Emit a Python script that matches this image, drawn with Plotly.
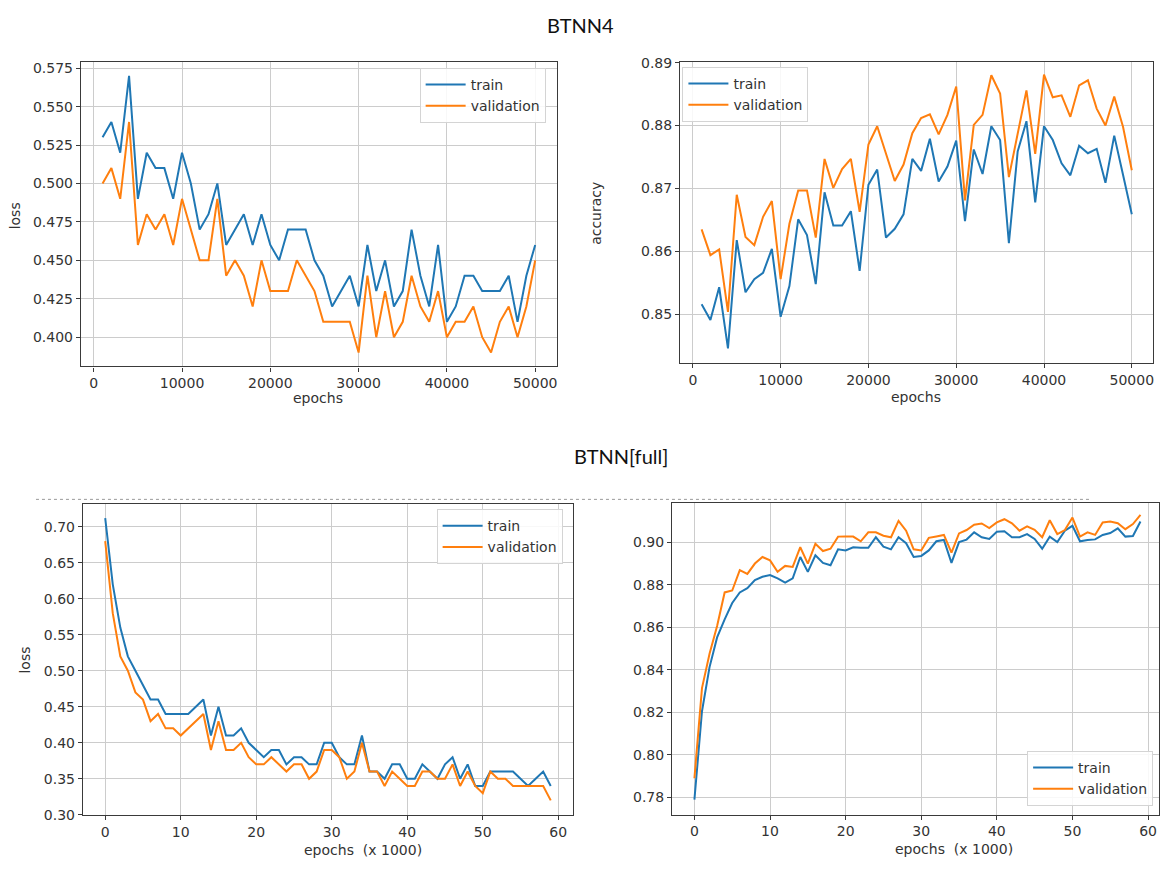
import plotly.graph_objects as go

W, H = 1160, 871

# ---------------- data ----------------
epochs_a = list(range(1000, 50001, 1000))
loss4_train = [0.530, 0.540, 0.520, 0.570, 0.490, 0.520, 0.510, 0.510, 0.490, 0.520,
               0.500, 0.470, 0.480, 0.500, 0.460, 0.470, 0.480, 0.460, 0.480, 0.460,
               0.450, 0.470, 0.470, 0.470, 0.450, 0.440, 0.420, 0.430, 0.440, 0.420,
               0.460, 0.430, 0.450, 0.420, 0.430, 0.470, 0.440, 0.420, 0.460, 0.410,
               0.420, 0.440, 0.440, 0.430, 0.430, 0.430, 0.440, 0.410, 0.440, 0.460]
loss4_val = [0.500, 0.510, 0.490, 0.540, 0.460, 0.480, 0.470, 0.480, 0.460, 0.490,
             0.470, 0.450, 0.450, 0.490, 0.440, 0.450, 0.440, 0.420, 0.450, 0.430,
             0.430, 0.430, 0.450, 0.440, 0.430, 0.410, 0.410, 0.410, 0.410, 0.390,
             0.440, 0.400, 0.430, 0.400, 0.410, 0.440, 0.420, 0.410, 0.430, 0.400,
             0.410, 0.410, 0.420, 0.400, 0.390, 0.410, 0.420, 0.400, 0.420, 0.450]
acc4_train = [0.8516, 0.8491, 0.8543, 0.8446, 0.8618, 0.8535, 0.8556, 0.8566, 0.8604, 0.8496,
              0.8545, 0.8651, 0.8626, 0.8548, 0.8694, 0.8641, 0.8641, 0.8664, 0.8569, 0.8706,
              0.8730, 0.8622, 0.8636, 0.8659, 0.8747, 0.8728, 0.8779, 0.8711, 0.8735, 0.8776,
              0.8648, 0.8762, 0.8723, 0.8799, 0.8777, 0.8613, 0.8759, 0.8807, 0.8678, 0.8799,
              0.8777, 0.8740, 0.8721, 0.8768, 0.8756, 0.8763, 0.8709, 0.8784, 0.8722, 0.8659]
acc4_val = [0.8635, 0.8594, 0.8603, 0.8504, 0.8690, 0.8623, 0.8610, 0.8655, 0.8680, 0.8556,
            0.8644, 0.8697, 0.8697, 0.8622, 0.8747, 0.8701, 0.8731, 0.8747, 0.8663, 0.8770,
            0.8799, 0.8756, 0.8712, 0.8738, 0.8788, 0.8812, 0.8818, 0.8786, 0.8817, 0.8862,
            0.8681, 0.8801, 0.8817, 0.8880, 0.8851, 0.8718, 0.8790, 0.8856, 0.8755, 0.8881,
            0.8845, 0.8848, 0.8814, 0.8864, 0.8872, 0.8827, 0.8800, 0.8846, 0.8798, 0.8729]

epochs_b = list(range(0, 60))
lossf_train = [0.712, 0.620, 0.560, 0.520, 0.500, 0.480, 0.460, 0.460, 0.440, 0.440,
               0.440, 0.440, 0.450, 0.460, 0.410, 0.450, 0.410, 0.410, 0.420, 0.400,
               0.390, 0.380, 0.390, 0.390, 0.370, 0.380, 0.380, 0.370, 0.370, 0.400,
               0.400, 0.380, 0.370, 0.370, 0.410, 0.360, 0.360, 0.350, 0.370, 0.370,
               0.350, 0.350, 0.370, 0.360, 0.350, 0.370, 0.380, 0.350, 0.370, 0.340,
               0.340, 0.360, 0.360, 0.360, 0.360, 0.350, 0.340, 0.350, 0.360, 0.340]
lossf_val = [0.680, 0.580, 0.520, 0.500, 0.470, 0.460, 0.430, 0.440, 0.420, 0.420,
             0.410, 0.420, 0.430, 0.440, 0.390, 0.430, 0.390, 0.390, 0.400, 0.380,
             0.370, 0.370, 0.380, 0.370, 0.360, 0.370, 0.370, 0.350, 0.360, 0.390,
             0.390, 0.380, 0.350, 0.360, 0.400, 0.360, 0.360, 0.340, 0.360, 0.350,
             0.340, 0.340, 0.360, 0.360, 0.350, 0.350, 0.370, 0.340, 0.360, 0.340,
             0.330, 0.360, 0.350, 0.350, 0.340, 0.340, 0.340, 0.340, 0.340, 0.320]
accf_train = [0.7788, 0.8205, 0.8413, 0.8553, 0.8638, 0.8715, 0.8765, 0.8785, 0.8823, 0.8839,
              0.8847, 0.8831, 0.8811, 0.8831, 0.8932, 0.8862, 0.8940, 0.8904, 0.8893, 0.8968,
              0.8963, 0.8978, 0.8975, 0.8975, 0.9025, 0.8981, 0.8968, 0.9025, 0.8997, 0.8932,
              0.8937, 0.8963, 0.9006, 0.9012, 0.8904, 0.9002, 0.9014, 0.9048, 0.9025, 0.9017,
              0.9051, 0.9053, 0.9025, 0.9025, 0.9040, 0.9017, 0.8971, 0.9028, 0.9002, 0.9056,
              0.9079, 0.9006, 0.9012, 0.9015, 0.9036, 0.9045, 0.9067, 0.9028, 0.9031, 0.9099]
accf_val = [0.7889, 0.8314, 0.8476, 0.8607, 0.8765, 0.8774, 0.8870, 0.8852, 0.8901, 0.8932,
            0.8916, 0.8862, 0.8890, 0.8885, 0.8978, 0.8901, 0.8994, 0.8960, 0.8971, 0.9028,
            0.9029, 0.9028, 0.9006, 0.9048, 0.9048, 0.9032, 0.9025, 0.9102, 0.9056, 0.8968,
            0.8963, 0.9022, 0.9029, 0.9036, 0.8952, 0.9043, 0.9059, 0.9084, 0.9090, 0.9068,
            0.9095, 0.9110, 0.9091, 0.9056, 0.9076, 0.9060, 0.9025, 0.9105, 0.9040, 0.9059,
            0.9118, 0.9028, 0.9048, 0.9036, 0.9095, 0.9099, 0.9091, 0.9063, 0.9087, 0.9130]

series_names = ["train", "validation"]
x_ticks_a = [0, 10000, 20000, 30000, 40000, 50000]
x_ticks_b = [0, 10, 20, 30, 40, 50, 60]
y_ticks_1 = [0.400, 0.425, 0.450, 0.475, 0.500, 0.525, 0.550, 0.575]
y_ticks_2 = [0.85, 0.86, 0.87, 0.88, 0.89]
y_ticks_3 = [0.30, 0.35, 0.40, 0.45, 0.50, 0.55, 0.60, 0.65, 0.70]
y_ticks_4 = [0.78, 0.80, 0.82, 0.84, 0.86, 0.88, 0.90]

BLUE = "#1f77b4"
ORANGE = "#ff7f0e"
FONT = "DejaVu Sans"
TXT = "#333333"


def px_x(p):
    return p / W


def px_y(p):
    return (H - p) / H


fig = go.Figure()

panels = [
    (epochs_a, loss4_train, loss4_val, "x", "y", "legend"),
    (epochs_a, acc4_train, acc4_val, "x2", "y2", "legend2"),
    (epochs_b, lossf_train, lossf_val, "x3", "y3", "legend3"),
    (epochs_b, accf_train, accf_val, "x4", "y4", "legend4"),
]
for xs, tr, va, xa, ya, lg in panels:
    for name, ys, col in ((series_names[0], tr, BLUE), (series_names[1], va, ORANGE)):
        fig.add_trace(go.Scatter(x=xs, y=ys, mode="lines", name=name,
                                 line=dict(color=col, width=2),
                                 xaxis=xa, yaxis=ya, legend=lg))

axis_common = dict(showline=True, mirror=True, linecolor="#3a3a3a", linewidth=1.3,
                   showgrid=True, gridcolor="#cccccc", gridwidth=1,
                   zeroline=False, ticks="outside", ticklen=4, tickwidth=1,
                   tickcolor="#3a3a3a",
                   tickfont=dict(family=FONT, size=14, color=TXT))

fig.update_layout(
    width=W, height=H, margin=dict(l=0, r=0, t=0, b=0),
    paper_bgcolor="white", plot_bgcolor="white",
    showlegend=True,
    xaxis=dict(domain=[px_x(81), px_x(557.3)], range=[-1450, 52450],
               tickvals=x_ticks_a, tickformat="d", anchor="y", **axis_common),
    yaxis=dict(domain=[px_y(365.7), px_y(56)], range=[0.381, 0.579],
               tickvals=y_ticks_1, tickformat=".3f", anchor="x", **axis_common),
    xaxis2=dict(domain=[px_x(680.7), px_x(1154.3)], range=[-1450, 52450],
                tickvals=x_ticks_a, tickformat="d", anchor="y2", **axis_common),
    yaxis2=dict(domain=[px_y(362), px_y(56)], range=[0.8423, 0.8901],
                tickvals=y_ticks_2, tickformat=".2f", anchor="x2", **axis_common),
    xaxis3=dict(domain=[px_x(83), px_x(573.5)], range=[-2.95, 61.95],
                tickvals=x_ticks_b, anchor="y3", **axis_common),
    yaxis3=dict(domain=[px_y(822.3), px_y(505.7)], range=[0.2995, 0.7316],
                tickvals=y_ticks_3, tickformat=".2f", anchor="x3", **axis_common),
    xaxis4=dict(domain=[px_x(672.7), 1.0], range=[-2.95, 61.45],
                tickvals=x_ticks_b, anchor="y4", **axis_common),
    yaxis4=dict(domain=[px_y(821.7), px_y(505)], range=[0.7718, 0.9185],
                tickvals=y_ticks_4, tickformat=".2f", anchor="x4", **axis_common),
)

legend_style = dict(bgcolor="rgba(255,255,255,0.85)", bordercolor="#d4d4d4", borderwidth=1,
                    font=dict(family=FONT, size=14, color=TXT), itemwidth=40,
                    tracegroupgap=0)
fig.update_layout(
    legend=dict(x=px_x(420), y=px_y(62), xanchor="left", yanchor="top", **legend_style),
    legend2=dict(x=px_x(683), y=px_y(61), xanchor="left", yanchor="top", **legend_style),
    legend3=dict(x=px_x(437), y=px_y(511), xanchor="left", yanchor="top", **legend_style),
    legend4=dict(x=px_x(1028), y=px_y(813), xanchor="left", yanchor="bottom", **legend_style),
)

ann_font = dict(family=FONT, size=14, color=TXT)
annotations = [
    dict(text="BTNN4", x=px_x(581), y=px_y(18), font=dict(family="Lato", size=20, color="#111111")),
    dict(text="BTNN[full]", x=px_x(622), y=px_y(457), font=dict(family="Lato", size=20, color="#111111")),
    dict(text="epochs", x=px_x(318), y=px_y(398), font=ann_font),
    dict(text="epochs", x=px_x(917), y=px_y(397), font=ann_font),
    dict(text="loss", x=px_x(15), y=px_y(212), textangle=-90, font=ann_font),
    dict(text="accuracy", x=px_x(597), y=px_y(210), textangle=-90, font=ann_font),
    dict(text="loss", x=px_x(25), y=px_y(664), textangle=-90, font=ann_font),
    dict(text="epochs  (x 1000)", x=px_x(302), y=px_y(858), xanchor="left", font=ann_font),
    dict(text="epochs  (x 1000)", x=px_x(894), y=px_y(857), xanchor="left", font=ann_font),
]
for a in annotations:
    a.setdefault("xanchor", "center")
    fig.add_annotation(xref="paper", yref="paper", showarrow=False, yanchor="middle", **a)

fig.add_shape(type="line", xref="paper", yref="paper",
              x0=px_x(36), x1=px_x(1092), y0=px_y(501), y1=px_y(501),
              line=dict(color="#9a9a9a", width=1, dash="dot"))

fig.write_html("out.html", config={"displayModeBar": False},
               post_script="document.body.style.margin='0px';document.body.style.overflow='hidden';")
